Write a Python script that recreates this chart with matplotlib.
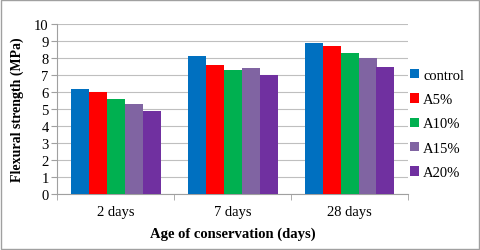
import matplotlib
matplotlib.use("Agg")
import matplotlib.pyplot as plt
import numpy as np
from matplotlib.patches import Rectangle

plt.rcParams['font.family'] = 'serif'
plt.rcParams['font.serif'] = ['Liberation Serif', 'DejaVu Serif']

categories = ["2 days", "7 days", "28 days"]
series_names = ["control", "A5%", "A10%", "A15%", "A20%"]
control = [6.2, 8.1, 8.9]
a5 = [6.0, 7.6, 8.7]
a10 = [5.6, 7.3, 8.3]
a15 = [5.3, 7.4, 8.0]
a20 = [4.9, 7.0, 7.5]
yticks = list(range(0, 11))
colors = ["#0070C0", "#FF0000", "#00B050", "#8064A2", "#7030A0"]

series = [control, a5, a10, a15, a20]

fig = plt.figure(figsize=(4.8, 2.51), dpi=100)
ax = fig.add_axes([57/480, 1 - 195/251, (408-57)/480, (195-25)/251])

x = np.arange(len(categories))
n = len(series)
w = 1 / (n + 1.5)
for i, (vals, name, c) in enumerate(zip(series, series_names, colors)):
    ax.bar(x + (i - (n - 1) / 2) * w, vals, width=w, color=c, label=name, zorder=3)

ax.set_xlim(-0.5, len(categories) - 0.5)
ax.set_ylim(0, 10)
ax.set_yticks(yticks)
ax.set_yticklabels([str(t) for t in yticks], fontsize=10.5)
ax.yaxis.grid(True, color="#BFBFBF", linewidth=0.8, zorder=0)
ax.set_xticks(x)
ax.set_xticklabels(categories, fontsize=10.5)
ax.tick_params(axis='x', length=0, pad=8)
ax.set_xticks(np.arange(-0.5, len(categories)), minor=True)
ax.tick_params(axis='x', which='minor', length=4, color="#A0A0A0")
ax.tick_params(axis='y', length=4, color="#A0A0A0", pad=2)
for s in ['top', 'right']:
    ax.spines[s].set_visible(False)
for s in ['left', 'bottom']:
    ax.spines[s].set_color("#A0A0A0")
    ax.spines[s].set_linewidth(0.8)

ax.set_ylabel("Flexural strength (MPa)", fontsize=10, fontweight='bold', labelpad=7)
ax.set_xlabel("Age of conservation (days)", fontsize=10.5, fontweight='bold', labelpad=6)

leg = fig.legend(loc='center left', bbox_to_anchor=(407/480, 1 - 125/251), frameon=False,
                 fontsize=10.5, handlelength=0.6, handleheight=0.6, handletextpad=0.3,
                 labelspacing=0.78, borderaxespad=0.0, borderpad=0.2)

fig.patches.append(Rectangle((0.002, 0.004), 0.995, 0.992, transform=fig.transFigure,
                             fill=False, edgecolor="#A0A0A0", linewidth=1.0))

fig.savefig("out.png", dpi=100)
